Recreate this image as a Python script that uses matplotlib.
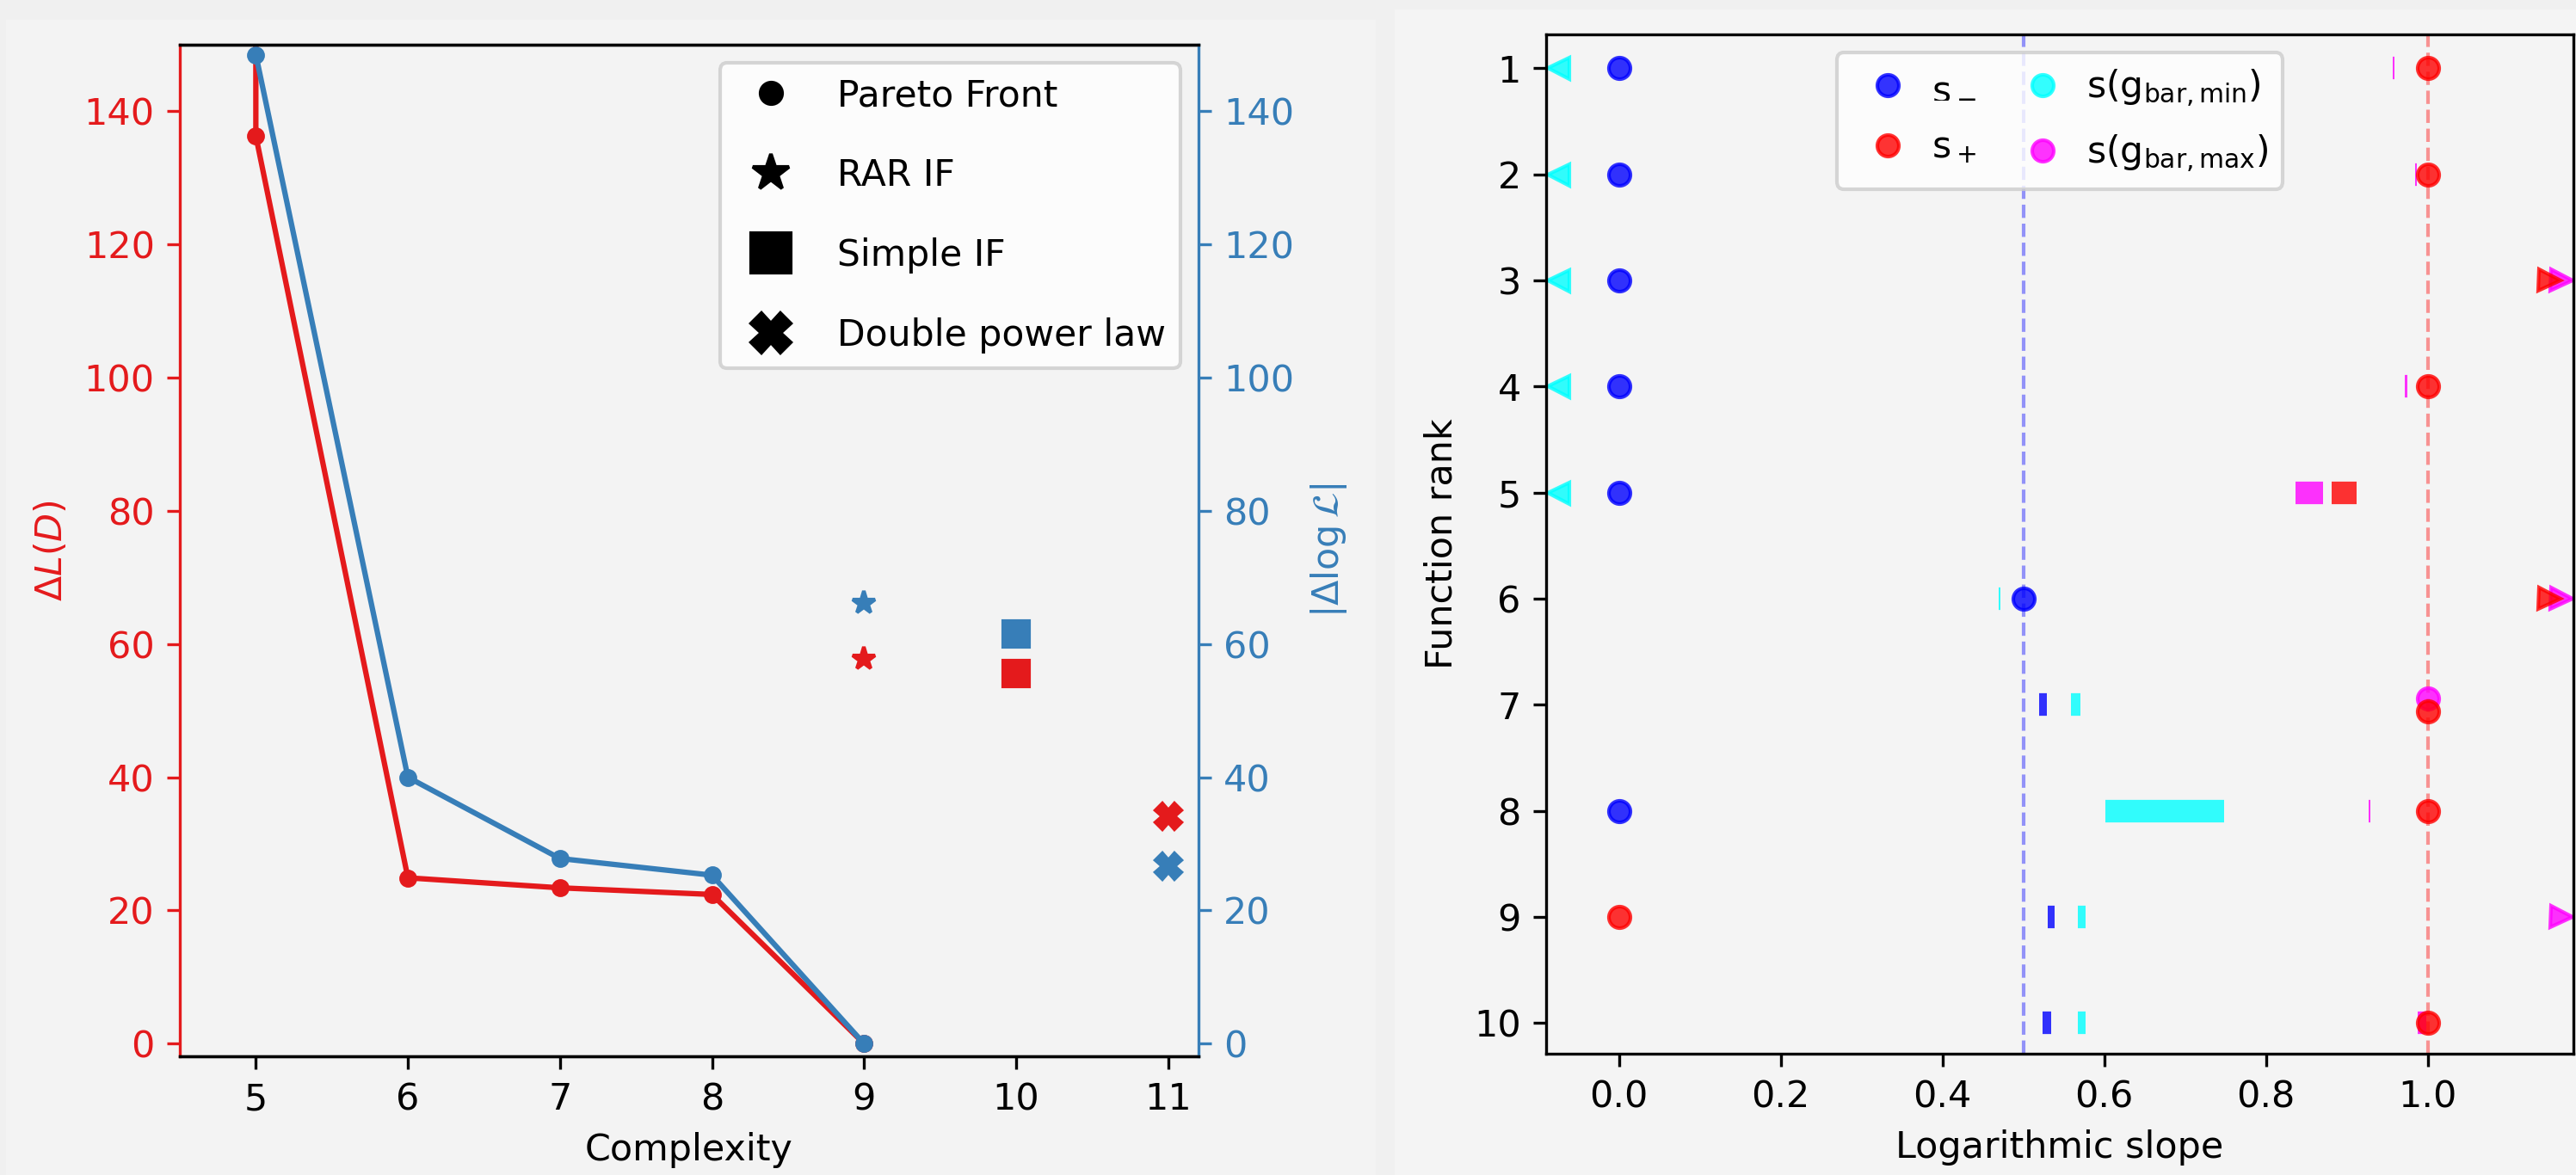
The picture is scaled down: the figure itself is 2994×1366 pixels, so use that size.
import numpy as np
import matplotlib
matplotlib.use('Agg')
import matplotlib.pyplot as plt
from matplotlib.lines import Line2D
from matplotlib.patches import Rectangle

plt.rcParams['font.family'] = ['DejaVu Sans']
plt.rcParams['font.size'] = 10.3

# ---------------- Left panel data ----------------
pareto_complexity_dL = [5, 5, 6, 7, 8, 9]
pareto_dL = [175.0, 136.3, 24.9, 23.4, 22.4, 0.0]
pareto_complexity_logL = [5, 6, 7, 8, 9]
pareto_dlogL = [148.5, 40.0, 27.8, 25.3, 0.0]

other_names = ["RAR IF", "Simple IF", "Double power law"]
other_complexity = [9, 10, 11]
other_dL = [57.8, 55.6, 34.2]
other_dlogL = [66.2, 61.5, 26.7]
other_markers = ['*', 's', 'X']
other_sizes = [6.5, 7.0, 7.0]

complexity_ticks = [5, 6, 7, 8, 9, 10, 11]

# ---------------- Right panel data ----------------
# float = point estimate, tuple = (low, high) range, -inf / inf = off the plotted range
INF = np.inf
ranks = [1, 2, 3, 4, 5, 6, 7, 8, 9, 10]
s_minus = [0.0, 0.0, 0.0, 0.0, 0.0, 0.5, (0.5195, 0.529), 0.0, (0.5298, 0.5384), (0.524, 0.5345)]
s_plus = [1.0, 1.0, INF, 1.0, (0.881, 0.912), INF, 1.0, 1.0, 0.0, 1.0]
s_gmin = [-INF, -INF, -INF, -INF, -INF, (0.469, 0.4715), (0.559, 0.5706), (0.6019, 0.7479),
          (0.5677, 0.5772), (0.567, 0.5772)]
s_gmax = [(0.9562, 0.959), (0.984, 0.9865), INF, (0.972, 0.9745), (0.8365, 0.8705), INF, 1.0,
          (0.9265, 0.929), INF, (0.988, 0.998)]
slope_ticks = [0.0, 0.2, 0.4, 0.6, 0.8, 1.0]
ref_slopes = [0.5, 1.0]

RED = '#e41a1c'
BLUE = '#377eb8'

W, H, DPI = 2995, 1366, 300
fig = plt.figure(figsize=(W / DPI, H / DPI), dpi=DPI, facecolor='#f0f0f0')
# panel backgrounds
fig.patches.append(Rectangle((7 / W, 0), (1599 - 7) / W, (H - 23) / H, transform=fig.transFigure,
                             facecolor='#f3f3f3', edgecolor='none', zorder=-10))
fig.patches.append(Rectangle((1621 / W, 0), (W - 1621) / W, (H - 11) / H, transform=fig.transFigure,
                             facecolor='#f4f4f4', edgecolor='none', zorder=-10))

# ---------------- Left panel ----------------
ax = fig.add_axes([209 / W, 1 - 1228 / H, (1393 - 209) / W, (1228 - 52) / H])
ax.set_facecolor('none')
ax2 = ax.twinx()
ax2.set_facecolor('none')

ax.plot(pareto_complexity_dL, pareto_dL, '-o', color=RED, lw=1.5, ms=4)
ax2.plot(pareto_complexity_logL, pareto_dlogL, '-o', color=BLUE, lw=1.5, ms=4)
for c, a, b, m, s in zip(other_complexity, other_dL, other_dlogL, other_markers, other_sizes):
    ax.plot(c, a, marker=m, color=RED, ms=s, ls='none')
    ax2.plot(c, b, marker=m, color=BLUE, ms=s, ls='none')

ax.set_xlim(4.5, 11.2)
ax.set_ylim(-1.9, 150)
ax2.set_ylim(-1.9, 150)
ax.set_xticks(complexity_ticks)
ax.set_xlabel('Complexity')
ax.set_ylabel(r'$\Delta L(D)$', color=RED)
ax2.set_ylabel(r'$|\Delta \log \mathcal{L}|$', color=BLUE)
ax.tick_params(axis='y', colors=RED)
ax2.tick_params(axis='y', colors=BLUE)
ax.spines['left'].set_color(RED)
ax.spines['right'].set_visible(False)
ax2.spines['right'].set_color(BLUE)
ax2.spines['left'].set_visible(False)

leg_handles = [Line2D([], [], color='k', marker='o', ls='none', ms=6, label='Pareto Front'),
               Line2D([], [], color='k', marker='*', ls='none', ms=10.5, label=other_names[0]),
               Line2D([], [], color='k', marker='s', ls='none', ms=11, label=other_names[1]),
               Line2D([], [], color='k', marker='X', ls='none', ms=11, label=other_names[2])]
ax2.legend(handles=leg_handles, loc='upper right', labelspacing=1.2, fontsize=10.2)

# ---------------- Right panel ----------------
bx = fig.add_axes([1797 / W, 1 - 1225 / H, (2991 - 1797) / W, (1225 - 40) / H])
bx.set_facecolor('none')
XL = (-0.09, 1.18)
bx.set_xlim(*XL)
bx.set_ylim(10.29, 0.68)

bx.axvline(ref_slopes[0], color='blue', ls='--', lw=1, alpha=0.4, zorder=0)
bx.axvline(ref_slopes[1], color='red', ls='--', lw=1, alpha=0.4, zorder=0)


def same_point(a, b):
    return (not isinstance(a, tuple)) and (not isinstance(b, tuple)) and np.isfinite(a) and a == b


nudge_plus = [0.06 if same_point(p, g) else 0.0 for p, g in zip(s_plus, s_gmax)]
nudge_gmax = [-0.06 if same_point(p, g) else 0.0 for p, g in zip(s_plus, s_gmax)]
zero = [0.0] * len(ranks)


def draw_series(values, color, nudges, right_x):
    for r, v, dy in zip(ranks, values, nudges):
        y = r + dy
        if isinstance(v, tuple):
            bx.plot(list(v), [y, y], color=color, lw=6.3, alpha=0.8, solid_capstyle='butt')
        elif v == -INF:
            bx.plot(XL[0] + 0.015, y, marker='<', color=color, ms=6, alpha=0.8, ls='none')
        elif v == INF:
            bx.plot(right_x, y, marker='>', color=color, ms=6, alpha=0.8, ls='none')
        else:
            bx.plot(v, y, marker='o', color=color, ms=6, alpha=0.8, ls='none')


draw_series(s_minus, 'blue', zero, XL[1] - 0.03)
draw_series(s_gmin, 'cyan', zero, XL[1] - 0.03)
draw_series(s_gmax, 'magenta', nudge_gmax, XL[1] - 0.015)
draw_series(s_plus, 'red', nudge_plus, XL[1] - 0.03)

bx.set_yticks(ranks)
bx.set_xticks(slope_ticks)
bx.set_xlabel('Logarithmic slope')
bx.set_ylabel('Function rank')

rh = [Line2D([], [], color='blue', marker='o', ls='none', ms=6, alpha=0.8, label=r's$_-$'),
      Line2D([], [], color='red', marker='o', ls='none', ms=6, alpha=0.8, label=r's$_+$'),
      Line2D([], [], color='cyan', marker='o', ls='none', ms=6, alpha=0.8, label=r's(g$_{\rm bar,min}$)'),
      Line2D([], [], color='magenta', marker='o', ls='none', ms=6, alpha=0.8, label=r's(g$_{\rm bar,max}$)')]
bx.legend(handles=rh, loc='upper center', ncol=2, handletextpad=0.2, columnspacing=0.8,
          fontsize=10.2, labelspacing=0.65)

fig.savefig('out.png', dpi=DPI, facecolor=fig.get_facecolor())
